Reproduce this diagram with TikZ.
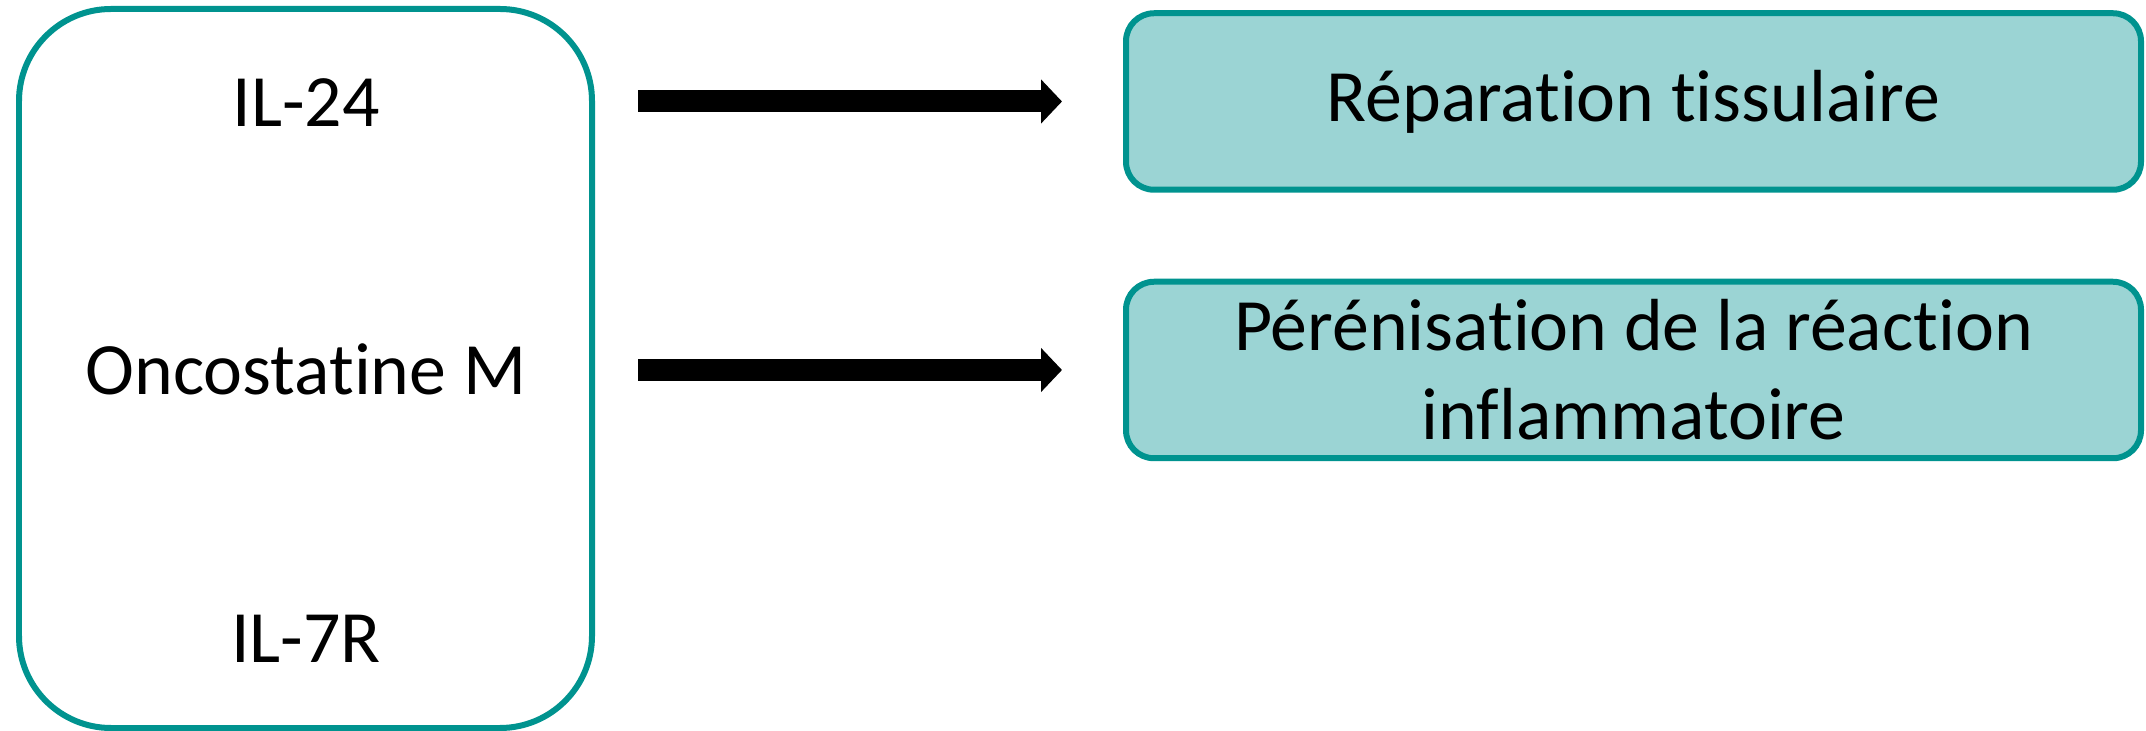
\documentclass[tikz,border=0pt]{standalone}
\usepackage{fontspec}
\setmainfont{Carlito}[Ligatures=NoCommon]
\usetikzlibrary{arrows.meta}

\definecolor{sarcelle}{RGB}{0,147,143}
\definecolor{sarcelleclair}{RGB}{155,212,212}

\begin{document}
\begin{tikzpicture}[auto,
    every node/.style={font=\fontsize{42pt}{50.6pt}\selectfont},
    cyto/.style ={draw=sarcelle, line width=0.12cm, rounded corners=1.84cm, minimum width=11.46cm, minimum height=14.38cm},
    effet/.style ={draw=sarcelle, fill=sarcelleclair, line width=0.12cm, rounded corners=0.56cm, minimum width=20.3cm, minimum height=3.53cm, align=center},
    fleche/.style ={line width=0.44cm, -{Triangle[length=0.42cm,width=0.86cm]}, shorten <=0.86cm, shorten >=1.22cm}]
   \useasboundingbox (0,0) rectangle (42.92,-14.62);

   % cytokines
   \node[cyto] (L) at (6.11,-7.37) {};
   \node[anchor=base] (a) at (6.12,-2.54) {IL-24};
   \node[anchor=base] (b) at (6.12,-7.90) {Oncostatine M};
   \node[anchor=base] (c) at (6.12,-13.26) {IL-7R};

   % effets
   \node[effet] (A) at (32.67,-2.03) {Réparation tissulaire};
   \node[effet] (B) at (32.67,-7.40) {Pérénisation de la réaction\\inflammatoire};

   \draw[fleche] (L.east |- A.west) to (A.west);
   \draw[fleche] (L.east |- B.west) to (B.west);
 \end{tikzpicture}
\end{document}
